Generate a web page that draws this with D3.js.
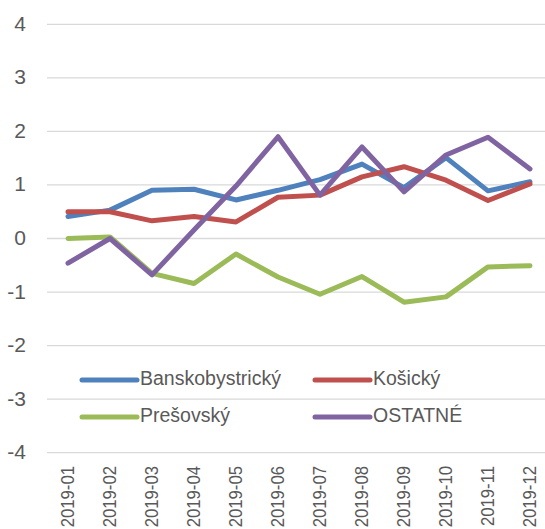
<!DOCTYPE html>
<html>
<head>
<meta charset="utf-8">
<script src="https://cdn.jsdelivr.net/npm/d3@7/dist/d3.min.js"></script>
<style>
  html, body { margin: 0; padding: 0; background: #fff; }
  svg { display: block; }
  text { font-family: "Liberation Sans", Arial, sans-serif; fill: #595959; }
</style>
</head>
<body>
<svg id="chart" width="545" height="529"></svg>
<script>
const months = ["2019-01","2019-02","2019-03","2019-04","2019-05","2019-06","2019-07","2019-08","2019-09","2019-10","2019-11","2019-12"];
const seriesNames = ["Banskobystrický","Košický","Prešovský","OSTATNÉ"];
const banskobystricky = [0.41, 0.53, 0.90, 0.92, 0.72, 0.90, 1.10, 1.39, 0.95, 1.51, 0.89, 1.06];
const kosicky        = [0.50, 0.50, 0.33, 0.41, 0.31, 0.77, 0.81, 1.15, 1.34, 1.09, 0.71, 1.02];
const presovsky      = [0.00, 0.03, -0.65, -0.84, -0.29, -0.72, -1.04, -0.71, -1.19, -1.09, -0.53, -0.51];
const ostatne        = [-0.46, 0.00, -0.68, 0.16, 0.98, 1.90, 0.81, 1.71, 0.87, 1.56, 1.89, 1.30];
const yTicks = [-4, -3, -2, -1, 0, 1, 2, 3, 4];
const colors = ["#4f81bd", "#c0504d", "#9bbb59", "#8064a2"];

const seriesValues = [banskobystricky, kosicky, presovsky, ostatne];
const svg = d3.select("#chart");

const x = d3.scalePoint().domain(months).range([68, 530]);
const y = d3.scaleLinear().domain([-4, 4]).range([452.7, 24.3]);

// gridlines
svg.append("g").selectAll("line").data(yTicks).join("line")
  .attr("x1", 47).attr("x2", 545)
  .attr("y1", d => y(d)).attr("y2", d => y(d))
  .attr("stroke", "#d9d9d9").attr("stroke-width", 1.3);

// y labels
svg.append("g").selectAll("text").data(yTicks).join("text")
  .attr("x", 26).attr("y", d => y(d) + 1)
  .attr("text-anchor", "end").attr("dominant-baseline", "middle")
  .style("font-size", "21px")
  .text(d => d);

// x labels
svg.append("g").selectAll("text").data(months).join("text")
  .attr("transform", d => `translate(${x(d) + 6},466) rotate(-90) scale(0.88,1)`)
  .attr("text-anchor", "end")
  .style("font-size", "19px")
  .text(d => d);

// lines
const line = d3.line().x((d, i) => x(months[i])).y(d => y(d));
svg.append("g").selectAll("path").data(seriesValues).join("path")
  .attr("d", d => line(d))
  .attr("fill", "none")
  .attr("stroke", (d, i) => colors[i])
  .attr("stroke-width", 5)
  .attr("stroke-linecap", "round")
  .attr("stroke-linejoin", "round");

// legend
const legendPos = [[82, 380], [315, 380], [82, 417], [315, 417]];
const lg = svg.append("g").selectAll("g").data(seriesNames).join("g")
  .attr("transform", (d, i) => `translate(${legendPos[i][0]},${legendPos[i][1]})`);
lg.append("line").attr("x1", 0).attr("x2", 55).attr("y1", 0).attr("y2", 0)
  .attr("stroke", (d, i) => colors[i]).attr("stroke-width", 5).attr("stroke-linecap", "round");
lg.append("text").attr("x", 58).attr("y", 0).attr("dominant-baseline", "middle")
  .style("font-size", "19.5px").text(d => d);
</script>
</body>
</html>
